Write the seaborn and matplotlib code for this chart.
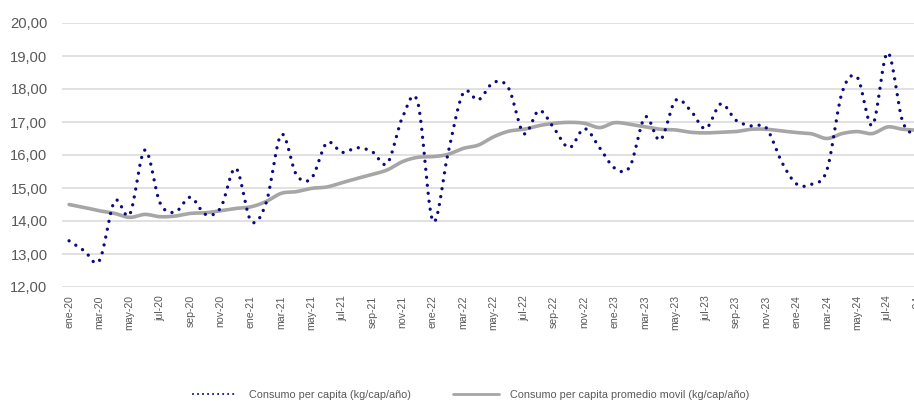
import numpy as np
import pandas as pd
import matplotlib
matplotlib.use("Agg")
import matplotlib.pyplot as plt
from matplotlib.lines import Line2D
import seaborn as sns

# ---- data ----
meses = ["ene", "feb", "mar", "abr", "may", "jun", "jul", "ago", "sep", "oct", "nov", "dic"]
anios = ["20", "21", "22", "23", "24"]
categorias = [f"{m}-{a}" for a in anios for m in meses][:57]  # ene-20 ... sep-24

consumo = [13.40, 13.10, 12.80, 14.60, 14.20, 16.15, 14.55, 14.27, 14.72, 14.20, 14.40, 15.60,
           14.00, 14.55, 16.62, 15.40, 15.30, 16.37, 16.08, 16.22, 16.10, 15.75, 17.15, 17.60,
           14.00, 16.05, 17.88, 17.67, 18.20, 18.02, 16.65, 17.35, 16.80, 16.22, 16.80, 16.22,
           15.60, 15.65, 17.15, 16.45, 17.65, 17.35, 16.80, 17.55, 17.05, 16.88, 16.82, 15.80,
           15.12, 15.12, 15.55, 17.90, 18.35, 16.90, 19.10, 17.00, 16.60]

promedio = [14.50, 14.41, 14.31, 14.23, 14.11, 14.20, 14.13, 14.15, 14.23, 14.25, 14.31, 14.38,
            14.43, 14.59, 14.84, 14.89, 14.99, 15.03, 15.16, 15.29, 15.41, 15.55, 15.80, 15.93,
            15.95, 16.02, 16.20, 16.30, 16.55, 16.72, 16.78, 16.89, 16.96, 16.99, 16.96, 16.83,
            16.98, 16.93, 16.86, 16.78, 16.76, 16.69, 16.67, 16.69, 16.71, 16.78, 16.78, 16.73,
            16.68, 16.64, 16.50, 16.65, 16.71, 16.65, 16.85, 16.78, 16.75]

y_ticks = [12, 13, 14, 15, 16, 17, 18, 19, 20]
serie1 = "Consumo per capita (kg/cap/año)"
serie2 = "Consumo per capita promedio movil (kg/cap/año)"


def excel_smooth(xs, ys, n=24):
    """Render-only smoothing like Excel's 'smoothed line' (Bezier through points)."""
    xs = np.asarray(xs, float)
    ys = np.asarray(ys, float)
    P = np.column_stack([xs, ys])
    out = []
    m = len(P)
    for i in range(m - 1):
        p0 = P[i - 1] if i > 0 else P[i]
        p1 = P[i]
        p2 = P[i + 1]
        p3 = P[i + 2] if i + 2 < m else P[i + 1]
        c1 = p1 + (p2 - p0) / 6.0
        c2 = p2 - (p3 - p1) / 6.0
        t = np.linspace(0, 1, n, endpoint=(i == m - 2))[:, None]
        seg = ((1 - t) ** 3) * p1 + 3 * ((1 - t) ** 2) * t * c1 + 3 * (1 - t) * t ** 2 * c2 + t ** 3 * p2
        out.append(seg)
    seg = np.vstack(out)
    return seg[:, 0], seg[:, 1]


pos = np.arange(len(categorias))
x1, y1 = excel_smooth(pos, consumo)
x2, y2 = excel_smooth(pos, promedio)
df1 = pd.DataFrame({"x": x1, "y": y1})
df2 = pd.DataFrame({"x": x2, "y": y2})

sns.set_theme(style="white")
plt.rcParams["font.family"] = ["Liberation Sans", "DejaVu Sans"]

W, H = 914, 401
fig = plt.figure(figsize=(W / 100, H / 100), dpi=100)
left_px, right_px, top_px, bot_px = 61.5, 925.5, 23, 287
ax = fig.add_axes([left_px / W, 1 - bot_px / H, (right_px - left_px) / W, (bot_px - top_px) / H])

sns.lineplot(data=df2, x="x", y="y", ax=ax, sort=False, estimator=None,
             color="#A6A6A6", linewidth=2.6, solid_capstyle="round")
sns.lineplot(data=df1, x="x", y="y", ax=ax, sort=False, estimator=None,
             color="#0A0A80", linewidth=2.4, linestyle=(0, (0.01, 2.4)),
             dash_capstyle="round")

ax.set_xlim(-0.5, len(categorias) - 0.5)
ax.set_ylim(12, 20)
ax.set_yticks(y_ticks)
ax.set_yticklabels([f"{v:.2f}".replace(".", ",") for v in y_ticks],
                   fontsize=10.6, color="#595959")
ax.set_xticks(pos[::2])
ax.set_xticklabels(categorias[::2], rotation=90, fontsize=7.6, color="#595959")
ax.tick_params(axis="x", length=0, pad=6)
ax.tick_params(axis="y", length=0, pad=10)
ax.set_xlabel("")
ax.set_ylabel("")
ax.grid(axis="y", color="#D9D9D9", linewidth=1.1)
ax.grid(axis="x", visible=False)
ax.set_axisbelow(True)
for s in ax.spines.values():
    s.set_visible(False)

handles = [
    Line2D([0], [0], color="#0A0A80", linewidth=1.5, linestyle=(0, (0.01, 2.4)),
           dash_capstyle="round"),
    Line2D([0], [0], color="#A6A6A6", linewidth=2.0),
]
fig.legend(handles, [serie1, serie2], loc="center", ncol=2, frameon=False,
           bbox_to_anchor=(471 / W, 1 - 395 / H), fontsize=7.8,
           handlelength=4.2, handletextpad=1.0, columnspacing=3.9,
           labelcolor="#595959", borderaxespad=0, borderpad=0)

fig.savefig("out.png", dpi=100)
